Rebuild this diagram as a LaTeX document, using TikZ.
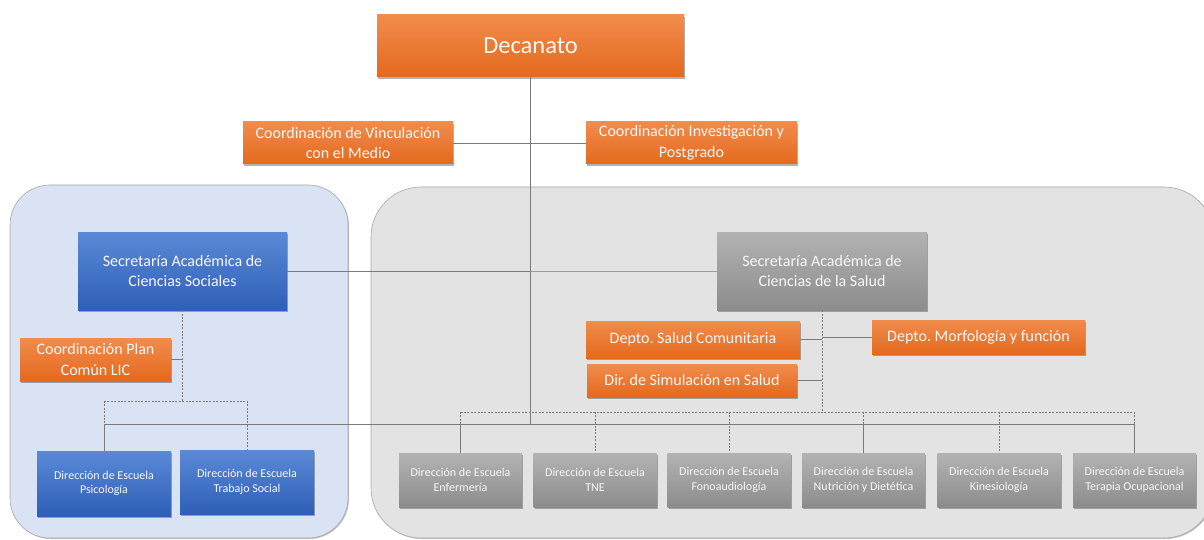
\documentclass[tikz,border=0pt]{standalone}
\usepackage{fontspec}
\setmainfont{Carlito}
\usetikzlibrary{shadows}
\frenchspacing
\definecolor{orT}{HTML}{F18C4C}
\definecolor{orB}{HTML}{E4691D}
\definecolor{blT}{HTML}{5A8AD6}
\definecolor{blB}{HTML}{2F5EB8}
\definecolor{grT}{HTML}{B3B3B3}
\definecolor{grB}{HTML}{8C8C8C}
\definecolor{lineC}{HTML}{7A7A7A}
\definecolor{panB}{HTML}{DAE3F3}
\definecolor{panG}{HTML}{E4E3E4}
\definecolor{panE}{HTML}{A8A8A8}
\definecolor{linkB}{HTML}{7FA0D8}
\definecolor{txt}{HTML}{F7F7F7}
\begin{document}
\begin{tikzpicture}[x=1pt,y=-1pt,
  box/.style={rectangle, inner sep=1pt, align=center, text=txt,
    drop shadow={shadow xshift=1.2pt, shadow yshift=-1.8pt, opacity=0.3, fill=black}},
  obox/.style={box, top color=orT, bottom color=orB},
  bbox/.style={box, top color=blT, bottom color=blB},
  gbox/.style={box, top color=grT, bottom color=grB},
  sz/.style 2 args={minimum width=#1pt, minimum height=#2pt},
  fbig/.style={font=\fontsize{24.5}{28}\selectfont},
  fmid/.style={font=\fontsize{16}{20.5}\selectfont},
  fsml/.style={font=\fontsize{12}{14.5}\selectfont},
  conn/.style={draw=lineC, line width=0.8pt},
  dconn/.style={draw=lineC, line width=0.7pt, dash pattern=on 2pt off 1.4pt},
  panel/.style={draw=panE, line width=0.6pt,
    drop shadow={shadow xshift=1pt, shadow yshift=-1pt, opacity=0.25, fill=black}}]
\useasboundingbox (0,0) rectangle (1204,540);
\fill[white] (0,0) rectangle (1204,540);
\begin{scope}
\clip (0,0) rectangle (1204,540);
\path[panel, fill=panB, rounded corners=40pt] (10,185) rectangle (348,538);
\path[panel, fill=panG, rounded corners=50pt] (371,187) rectangle (1214,538);
\end{scope}

% coordinates for the buses
\coordinate (busy) at (0,424);
\coordinate (ldash) at (0,401);
\coordinate (rdash) at (0,412);

% nodes
\node[obox, sz={307}{62}, fbig] (dec) at (530.5,46) {Decanato};
\node[obox, sz={210}{42}, fmid] (vinc) at (348,143) {Coordinación de Vinculación\\con el Medio};
\node[obox, sz={211}{42}, fmid] (inv) at (691.5,143) {Coordinación Investigación y\\Postgrado};
\node[bbox, sz={209}{78}, fmid] (scs) at (182.5,271) {Secretaría Académica de\\Ciencias Sociales};
\node[gbox, sz={210}{78}, fmid] (ssal) at (822,271) {Secretaría Académica de\\Ciencias de la Salud};
\node[obox, sz={151}{43}, fmid] (lic) at (95.5,359.5) {Coordinación Plan\\Común LIC};
\node[obox, sz={214}{37}, fmid] (dsc) at (693,339.5) {Depto. Salud Comunitaria};
\node[obox, sz={210}{33}, fmid] (dsim) at (692,380.5) {Dir. de Simulación en Salud};
\node[obox, sz={213}{34}, fmid] (morf) at (978.5,337) {Depto. Morfología y función};
\node[bbox, sz={134}{65}, fsml] (psi) at (104,483.5) {Dirección de Escuela\\Psicología};
\node[bbox, sz={134}{64}, fsml] (ts) at (247,482) {Dirección de Escuela\\Trabajo Social};
\node[gbox, sz={123}{54}, fsml] (enf) at (460.5,480) {Dirección de Escuela\\Enfermería};
\node[gbox, sz={123}{54}, fsml] (tne) at (595,480) {Dirección de Escuela\\TNE};
\node[gbox, sz={123}{54}, fsml] (fono) at (729,480) {Dirección de Escuela\\Fonoaudiología};
\node[gbox, sz={123}{54}, fsml] (nut) at (863.5,480) {Dirección de Escuela\\Nutrición y Dietética};
\node[gbox, sz={123}{54}, fsml] (kin) at (999,480) {Dirección de Escuela\\Kinesiología};
\node[gbox, sz={123}{54}, fsml] (to) at (1134.5,480) {Dirección de Escuela\\Terapia Ocupacional};

% solid hierarchy from Decanato
\draw[conn] (dec.south) -- (dec.south |- busy);
\draw[conn] (vinc.east) -- (inv.west);
\draw[conn] (scs.east) -- (scs.east -| dec.south);
\draw[draw=linkB, line width=0.8pt] (scs.east -| dec.south) -- (ssal.west);
\draw[conn] (psi.north |- busy) -- (to.north |- busy);
\foreach \n in {psi,enf,nut,to} \draw[conn] (\n.north |- busy) -- (\n.north);

% left secretaria (dashed)
\draw[dconn] (scs.south) -- (scs.south |- ldash);
\draw[dconn] (psi.north |- ldash) -- (ts.north |- ldash);
\foreach \n in {psi,ts} \draw[dconn] (\n.north |- ldash) -- (\n.north);
\draw[conn] (lic.east) -- (lic.east -| scs.south);

% right secretaria (dashed)
\draw[dconn] (ssal.south) -- (ssal.south |- rdash);
\draw[dconn] (enf.north |- rdash) -- (to.north |- rdash);
\foreach \n in {enf,tne,fono,nut,kin,to} \draw[dconn] (\n.north |- rdash) -- (\n.north);
\draw[conn] (dsc.east) -- (dsc.east -| ssal.south);
\draw[conn] (dsim.east) -- (dsim.east -| ssal.south);
\draw[conn] (morf.west) -- (morf.west -| ssal.south);
\end{tikzpicture}
\end{document}
